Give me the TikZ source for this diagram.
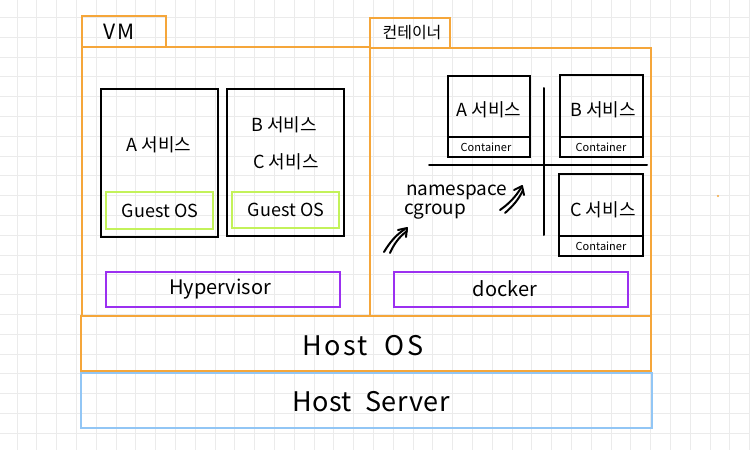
\documentclass[tikz,border=0pt]{standalone}
\usepackage{fontspec}
\setmainfont{Noto Sans CJK KR}
\usetikzlibrary{positioning}

\definecolor{boxorange}{HTML}{F5A63A}
\definecolor{boxgreen}{HTML}{C3F25A}
\definecolor{boxpurple}{HTML}{9B30F0}
\definecolor{boxblue}{HTML}{92C6F5}
\definecolor{gridgray}{HTML}{EBEBEB}

\newcommand{\txtsize}[1]{\fontsize{#1}{#1}\selectfont}

\begin{document}
\begin{tikzpicture}[x=1pt, y=-1pt, line width=2pt,
    gridline/.style={draw=gridgray, line width=1pt},
    orangebox/.style={draw=boxorange, line width=2pt},
    blackbox/.style={draw=black, line width=2pt},
    greenbox/.style={draw=boxgreen, line width=2pt},
    purplebox/.style={draw=boxpurple, line width=2pt},
    bluebox/.style={draw=boxblue, line width=2pt},
    sketch/.style={draw=black, line width=2pt, line cap=round, line join=round},
    label/.style={inner sep=0pt}]
    \useasboundingbox (0,0) rectangle (750,450);
    \fill[white] (0,0) rectangle (750,450);

    % background grid
    \foreach \gx in {0,...,37}
        \draw[gridline] (17+19.8*\gx,0) -- (17+19.8*\gx,450);
    \foreach \gy in {0,...,21}
        \draw[gridline] (0,17.5+19.8*\gy) -- (750,17.5+19.8*\gy);

    % host layers
    \draw[bluebox] (81,373) rectangle (652,428);
    \draw[orangebox] (81,316) rectangle (651,371);
    \node[label] (hostsrv) at (371,402) {\txtsize{27}\addfontfeatures{LetterSpace=2}Host\ \ Server};
    \node[label] (hostos) at (363,346) {\txtsize{27}\addfontfeatures{LetterSpace=9}Host\ \ OS};

    % VM side
    \draw[orangebox] (82,16) rectangle (166,47);
    \draw[orangebox] (82,47) rectangle (370,316);
    \node[label] (vm) at (119,32) {\txtsize{21}\addfontfeatures{LetterSpace=8}VM};

    \draw[blackbox] (101,89) rectangle (218,237);
    \draw[greenbox] (106,192) rectangle (213,229);
    \node[label] (svcA) at (159,145) {\txtsize{18}A 서비스};
    \node[label] (guestA) at (160,211) {\txtsize{18}Guest OS};

    \draw[blackbox] (227,89) rectangle (344,236);
    \draw[greenbox] (232,192) rectangle (339,228);
    \node[label] (svcB) at (284,125) {\txtsize{18}B 서비스};
    \node[label] (svcC) at (286,162) {\txtsize{18}C 서비스};
    \node[label] (guestB) at (286,210) {\txtsize{18}Guest OS};

    \draw[purplebox] (106,272) rectangle (340,307);
    \node[label] (hyper) at (220,289) {\txtsize{20}Hypervisor};

    % container side
    \draw[orangebox] (370,18) rectangle (450,48);
    \draw[orangebox] (370,48) rectangle (651,316);
    \node[label] (ctlabel) at (412,33) {\txtsize{16}컨테이너};

    \draw[sketch] (544,88) -- (544,235);
    \draw[sketch] (429,165) -- (647,165);

    \draw[blackbox] (448,76) rectangle (530,157);
    \draw[blackbox] (448,137) -- (530,137);
    \node[label] (ctA) at (489,110) {\txtsize{18}A 서비스};
    \node[label] (ctAsub) at (486,147) {\txtsize{11}Container};

    \draw[blackbox] (560,75) rectangle (643,157);
    \draw[blackbox] (560,137) -- (643,137);
    \node[label] (ctB) at (603,110) {\txtsize{18}B 서비스};
    \node[label] (ctBsub) at (601,147) {\txtsize{11}Container};

    \draw[blackbox] (559,174) rectangle (643,256);
    \draw[blackbox] (559,236) -- (643,236);
    \node[label] (ctC) at (603,210) {\txtsize{18}C 서비스};
    \node[label] (ctCsub) at (601,246) {\txtsize{11}Container};

    \node[label, anchor=west] (ns) at (405,192) {\txtsize{19}namespace};
    \node[label, anchor=west] (cg) at (403,212) {\txtsize{19}cgroup};

    % double arrows
    \draw[sketch] (500,210) .. controls (510,203) and (516,196) .. (521,188);
    \draw[sketch] (505,213) .. controls (513,206) and (519,199) .. (523,190);
    \draw[sketch] (514,190) -- (522,186) -- (524,195);
    \draw[sketch] (384,252) .. controls (390,242) and (396,235) .. (405,229);
    \draw[sketch] (390,253) .. controls (394,244) and (399,237) .. (407,231);
    \draw[sketch] (398,230) -- (407,228) -- (406,237);

    \draw[purplebox] (394,272) rectangle (628,307);
    \node[label] (docker) at (505,289) {\txtsize{20}docker};

    % stray dot
    \fill[boxorange] (718,196) circle (1.2);
\end{tikzpicture}
\end{document}
